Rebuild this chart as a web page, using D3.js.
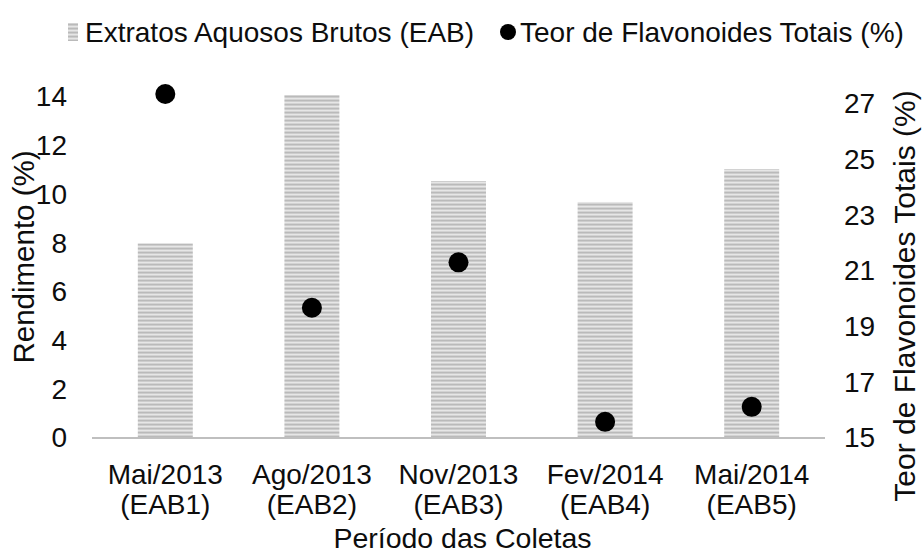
<!DOCTYPE html>
<html>
<head>
<meta charset="utf-8">
<script src="https://cdn.jsdelivr.net/npm/d3@7"></script>
<style>
  html, body { margin: 0; padding: 0; background: #fff; }
  svg { display: block; font-family: "Liberation Sans", Arial, sans-serif; }
</style>
</head>
<body>
<svg id="chart" width="923" height="553"></svg>
<script>
const categories = ["Mai/2013", "Ago/2013", "Nov/2013", "Fev/2014", "Mai/2014"];
const subLabels = ["(EAB1)", "(EAB2)", "(EAB3)", "(EAB4)", "(EAB5)"];
const rendimento = [7.99, 14.08, 10.55, 9.69, 11.04];
const flavonoides = [27.36, 19.68, 21.31, 15.58, 16.12];
const leftTicks = [0, 2, 4, 6, 8, 10, 12, 14];
const rightTicks = [15, 17, 19, 21, 23, 25, 27];

const svg = d3.select("#chart");
const W = 923, H = 553;
const m = { left: 92, right: 98 };
const plotBottom = 438;
const fs = 28;
const textColor = "#0d0d0d";

// stripe pattern
const defs = svg.append("defs");
const pat = defs.append("pattern").attr("id", "stripes")
  .attr("patternUnits", "userSpaceOnUse").attr("width", 8).attr("height", 4);
const stripeCols = ["#bababa", "#cdcdcd", "#e6e6e6", "#d3d3d3"];
stripeCols.forEach((c, i) => pat.append("rect").attr("x", 0).attr("y", i).attr("width", 8).attr("height", 1).attr("fill", c));

const x = d3.scaleBand().domain(categories).range([m.left, W - m.right]).paddingInner(0).paddingOuter(0);
const yL = d3.scaleLinear().domain([0, 14]).range([plotBottom, 97]);
const yR = d3.scaleLinear().domain([15, 27]).range([plotBottom, 104]);
const barW = x.bandwidth() * 0.375;

// bars
svg.append("g").selectAll("rect").data(categories).join("rect")
  .attr("x", d => x(d) + x.bandwidth() / 2 - barW / 2)
  .attr("y", (d, i) => yL(rendimento[i]))
  .attr("width", barW)
  .attr("height", (d, i) => yL(0) - yL(rendimento[i]))
  .attr("fill", "url(#stripes)");

// x axis line
svg.append("line")
  .attr("x1", m.left).attr("x2", W - m.right)
  .attr("y1", plotBottom).attr("y2", plotBottom)
  .attr("stroke", "#bfbfbf").attr("stroke-width", 2);

// left axis
const gL = svg.append("g").attr("transform", `translate(${m.left - 25},0)`)
  .call(d3.axisLeft(yL).tickValues(leftTicks).tickSize(0).tickPadding(0).tickFormat(d3.format("d")));
gL.select(".domain").remove();
gL.selectAll("text").attr("font-size", fs).attr("fill", textColor).attr("font-family", "Liberation Sans, Arial, sans-serif");

// right axis
const gR = svg.append("g").attr("transform", `translate(${W - m.right + 19},0)`)
  .call(d3.axisRight(yR).tickValues(rightTicks).tickSize(0).tickPadding(0).tickFormat(d3.format("d")));
gR.select(".domain").remove();
gR.selectAll("text").attr("font-size", fs).attr("fill", textColor).attr("font-family", "Liberation Sans, Arial, sans-serif");

// x tick labels
const xl = svg.append("g");
categories.forEach((c, i) => {
  const cx = x(c) + x.bandwidth() / 2;
  xl.append("text").attr("x", cx).attr("y", 484).attr("text-anchor", "middle")
    .attr("font-size", fs).attr("fill", textColor).text(c);
  xl.append("text").attr("x", cx).attr("y", 514).attr("text-anchor", "middle")
    .attr("font-size", fs).attr("fill", textColor).text(subLabels[i]);
});

// dots
svg.append("g").selectAll("circle").data(categories).join("circle")
  .attr("cx", d => x(d) + x.bandwidth() / 2)
  .attr("cy", (d, i) => yR(flavonoides[i]))
  .attr("r", 10)
  .attr("fill", "#000");

// axis titles
svg.append("text").attr("x", (m.left + W - m.right) / 2 + 4).attr("y", 548)
  .attr("text-anchor", "middle").attr("font-size", 28.5).attr("fill", textColor).text("Período das Coletas");
svg.append("text").attr("transform", `translate(34,257) rotate(-90)`)
  .attr("text-anchor", "middle").attr("font-size", 29.5).attr("fill", textColor).text("Rendimento (%)");
svg.append("text").attr("transform", `translate(915,296) rotate(-90)`)
  .attr("text-anchor", "middle").attr("font-size", 30).attr("fill", textColor).text("Teor de Flavonoides Totais (%)");

// legend
const lg = svg.append("g");
lg.append("rect").attr("x", 68).attr("y", 23).attr("width", 10).attr("height", 18).attr("fill", "url(#stripes)");
lg.append("text").attr("x", 85).attr("y", 42).attr("font-size", fs).attr("fill", textColor).text("Extratos Aquosos Brutos (EAB)");
lg.append("circle").attr("cx", 508).attr("cy", 32).attr("r", 8).attr("fill", "#000");
lg.append("text").attr("x", 520).attr("y", 42).attr("font-size", fs).attr("fill", textColor).text("Teor de Flavonoides Totais (%)");
</script>
</body>
</html>
